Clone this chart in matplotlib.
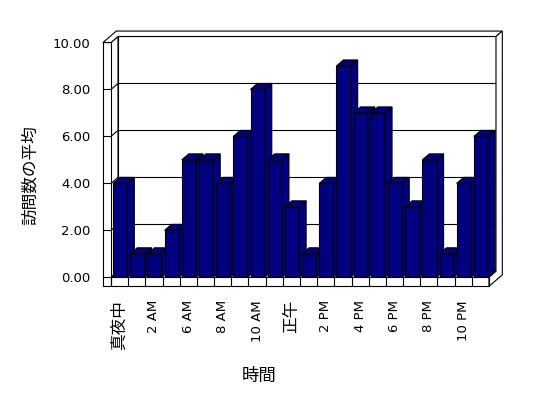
import matplotlib
matplotlib.use('Agg')
import matplotlib.pyplot as plt
from matplotlib.patches import Polygon, Rectangle

plt.rcParams['font.family'] = ['DejaVu Sans', 'Noto Sans CJK JP']

# hour categories (only every second one is labelled in the chart)
hours = ['真夜中', '1 AM', '2 AM', '5 AM', '6 AM', '7 AM', '8 AM', '9 AM',
         '10 AM', '11 AM', '正午', '1 PM', '2 PM', '3 PM', '4 PM', '5 PM',
         '6 PM', '7 PM', '8 PM', '9 PM', '10 PM', '11 PM']
avg_visits = [4, 1, 1, 2, 5, 5, 4, 6, 8, 5, 3, 1, 4, 9, 7, 7, 4, 3, 5, 1, 4, 6]
y_ticks = [0, 2, 4, 6, 8, 10]

bar_color = '#000080'
n = len(hours)
ymax = 10

# 3d look: depth offset of plot area and of outer wall, in data units
DX, DY = 0.407, 0.256
TX, TY = 0.774, 0.487
WALL = 0.466      # left wall thickness (categories)
FLOOR = 0.385     # floor thickness (values)

fig = plt.figure(figsize=(5.48, 3.98), dpi=100)
ax = fig.add_axes([111 / 548, (398 - 277.3) / 398, 378 / 548, 234.8 / 398])
ax.set_xlim(0, n)
ax.set_ylim(0, ymax)
ax.set_facecolor('none')
for s in ax.spines.values():
    s.set_visible(False)

def poly(pts, z, fc='white'):
    p = Polygon(pts, closed=True, facecolor=fc, edgecolor='black', lw=0.8,
                zorder=z, clip_on=False, joinstyle='miter')
    ax.add_patch(p)

# back wall, left wall inner face, floor top
poly([(DX, DY), (n + DX, DY), (n + DX, ymax + DY), (DX, ymax + DY)], 0.1)
poly([(0, 0), (DX, DY), (DX, ymax + DY), (0, ymax)], 0.1)
poly([(0, 0), (n, 0), (n + DX, DY), (DX, DY)], 0.1)

# gridlines
for v in y_ticks[1:-1]:
    ax.plot([DX, n + DX], [v + DY, v + DY], color='black', lw=0.8, zorder=0.2, clip_on=False)
    ax.plot([0, DX], [v, v + DY], color='black', lw=0.8, zorder=0.2, clip_on=False)
    ax.plot([n + DX, n + TX], [v + DY, v + TY], color='black', lw=0.8, zorder=0.2, clip_on=False)

# outer slabs: left wall front, floor front, top and right faces
poly([(-WALL, -FLOOR), (0, -FLOOR), (0, ymax), (-WALL, ymax)], 0.3)
poly([(0, -FLOOR), (n, -FLOOR), (n, 0), (0, 0)], 0.3)
poly([(-WALL, ymax), (0, ymax), (DX, ymax + DY), (n + DX, ymax + DY),
      (n + TX, ymax + TY), (-WALL + TX, ymax + TY)], 0.3)
poly([(n + DX, ymax + DY), (n + TX, ymax + TY), (n + TX, -FLOOR + TY),
      (n, -FLOOR), (n, 0), (n + DX, DY)], 0.3)

# bars
gap, bw = 0.12, 0.83
for i, v in enumerate(avg_visits):
    x0 = i + gap
    x1 = x0 + bw
    z = 1 + i * 0.01
    ax.add_patch(Rectangle((x0, 0), bw, v, facecolor=bar_color, edgecolor='black',
                           lw=0.8, zorder=z))
    poly([(x1, 0), (x1 + DX, DY), (x1 + DX, v + DY), (x1, v)], z, bar_color)
    poly([(x0, v), (x1, v), (x1 + DX, v + DY), (x0 + DX, v + DY)], z, bar_color)

# y axis
ax.set_yticks(y_ticks)
ax.set_yticklabels([f'{v:.2f}' for v in y_ticks])
ax.tick_params(axis='y', direction='out', length=5.8, width=0.8, pad=9, labelsize=9.5)

# x axis: dividers as minor ticks, labels every second hour
ax.set_xticks(range(n + 1), minor=True)
ax.set_xticks([i + 0.5 for i in range(0, n, 2)])
ax.set_xticklabels(hours[::2], rotation=90)
ax.tick_params(axis='x', which='minor', direction='out', length=6.5, width=0.8)
ax.tick_params(axis='x', which='major', length=0, pad=16.5, labelsize=9.5)
for lbl in ax.get_xticklabels():
    if not lbl.get_text().isascii():
        lbl.set_fontsize(12)
        lbl.set_fontfamily(['Noto Sans CJK JP'])

fig.text(30 / 548, 1 - 175 / 398, '訪問数の平均', rotation=90, ha='center', va='center',
         fontsize=12, family=['Noto Sans CJK JP'])
fig.text(259.3 / 548, 1 - 375.5 / 398, '時間', ha='center', va='center',
         fontsize=12.5, family=['Noto Sans CJK JP'])

fig.savefig('out.png', dpi=100, facecolor='white')
